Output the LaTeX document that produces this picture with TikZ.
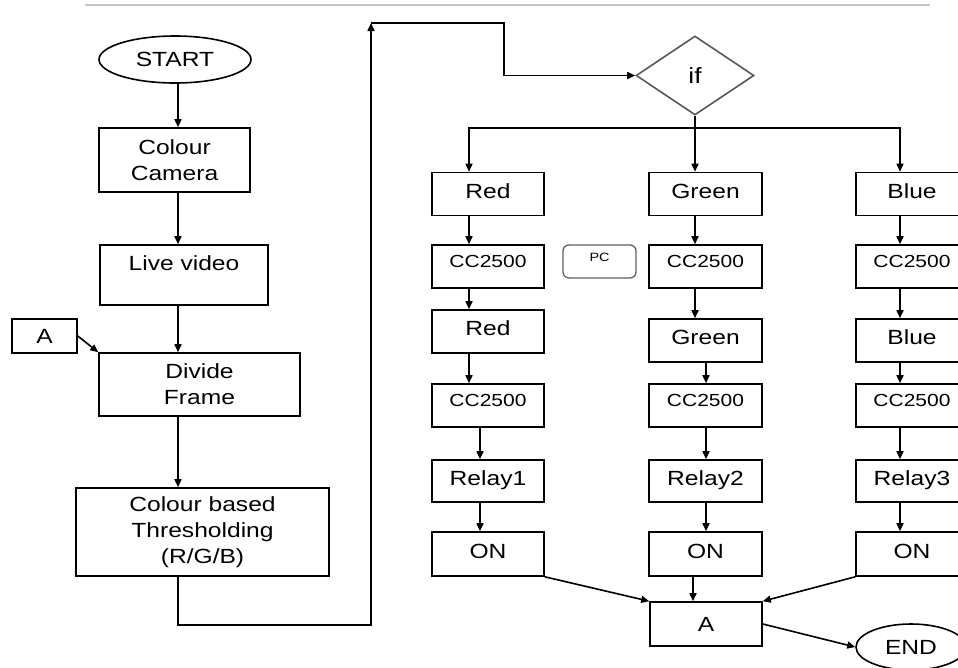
\documentclass[tikz,border=0pt]{standalone}
\usepackage{fontspec}
\setmainfont{Liberation Sans}[FakeStretch=1.2]
\usetikzlibrary{shapes.geometric,arrows.meta}
\begin{document}
\begin{tikzpicture}[x=1pt,y=-1pt,
  line width=1.6pt,
  arr/.style={-{Triangle[length=8pt,width=7pt]}},
  box/.style={draw, rectangle, inner sep=0pt, font=\fontsize{20.5}{26}\selectfont, align=center},
  cbox/.style={box, minimum width=112pt, minimum height=43pt, text height=14pt, text depth=6pt},
  ccbox/.style={box, minimum width=112pt, minimum height=43pt, font=\fontsize{17.5}{21}\selectfont, text height=12.5pt, text depth=10pt},
  term/.style={draw, ellipse, inner sep=0pt, font=\fontsize{20.5}{26}\selectfont},
  decide/.style={draw=gray!70!black, diamond, inner sep=0pt, font=\fontsize{22}{26}\selectfont},
  pcbox/.style={draw=gray!75!black, line width=1.3pt, rounded corners=6pt, inner sep=0pt, font=\fontsize{12}{14}\selectfont, text height=8.5pt, text depth=9pt},
]
\useasboundingbox (0,0) rectangle (958,667);
\draw[gray!45, line width=2pt] (85,4.5) -- (930,4.5);

% left column
\node[term, minimum width=152pt, minimum height=47pt] (start) at (175,59.5) {START};
\node[box, minimum width=151pt, minimum height=64pt] (camera) at (174.5,160) {Colour\\Camera};
\node[box, minimum width=168pt, minimum height=60pt, text height=14pt, text depth=24pt] (live) at (184,275) {Live video};
\node[box, minimum width=201pt, minimum height=63pt] (divide) at (199.5,384.5) {Divide\\Frame};
\node[box, minimum width=253pt, minimum height=88pt] (thresh) at (202.5,532) {Colour based\\Thresholding\\(R/G/B)};
\node[box, minimum width=65pt, minimum height=34pt] (asm) at (44.5,336) {A};

% decision
\node[decide, minimum width=118pt, minimum height=79pt] (if) at (695,75.5) {if};

% column 1
\node[cbox] (red1) at (488,194) {Red};
\node[ccbox] (cc1a) at (488,266.5) {CC2500};
\node[cbox] (red2) at (488,331.5) {Red};
\node[ccbox] (cc1b) at (488,405.5) {CC2500};
\node[cbox, minimum height=42pt] (relay1) at (488,481) {Relay1};
\node[cbox, minimum height=44pt] (on1) at (488,554) {ON};

% column 2
\node[cbox, minimum width=113pt] (green1) at (705.5,194) {Green};
\node[ccbox, minimum width=113pt] (cc2a) at (705.5,266.5) {CC2500};
\node[cbox, minimum width=113pt] (green2) at (705.5,340.5) {Green};
\node[ccbox, minimum width=113pt] (cc2b) at (705.5,405.5) {CC2500};
\node[cbox, minimum width=113pt, minimum height=42pt] (relay2) at (705.5,481) {Relay2};
\node[cbox, minimum width=113pt, minimum height=44pt] (on2) at (705.5,554) {ON};

% column 3
\node[cbox] (blue1) at (912,194) {Blue};
\node[ccbox] (cc3a) at (912,266.5) {CC2500};
\node[cbox] (blue2) at (912,340.5) {Blue};
\node[ccbox] (cc3b) at (912,405.5) {CC2500};
\node[cbox, minimum height=42pt] (relay3) at (912,481) {Relay3};
\node[cbox, minimum height=44pt] (on3) at (912,554) {ON};

% PC
\node[pcbox, minimum width=73pt, minimum height=33pt] (pc) at (599.5,261.5) {PC};

% bottom
\node[box, minimum width=112pt, minimum height=44pt] (asum) at (706,624) {A};
\node[term, minimum width=110pt, minimum height=46pt] (end) at (911,647) {END};

% helper coordinates
\coordinate (xL) at (178,0);
\coordinate (lb) at (178,625);
\coordinate (la) at (371,625);
\coordinate (lt) at (371,23);
\coordinate (lc) at (504,23);
\coordinate (br) at (695,128);
\coordinate (x1a) at (469,0);
\coordinate (x1b) at (480,0);
\coordinate (x2a) at (695,0);
\coordinate (x2b) at (706,0);
\coordinate (x2c) at (693,0);
\coordinate (x3) at (900,0);

% left connectors
\draw[arr] (start.south -| xL) -- (camera.north -| xL);
\draw[arr] (camera.south -| xL) -- (live.north -| xL);
\draw[arr] (live.south -| xL) -- (divide.north -| xL);
\draw[arr] (divide.south -| xL) -- (thresh.north -| xL);
\draw[arr] (asm.east) -- (divide.north west);
\draw[arr] (thresh.south -| xL) -- (lb) -- (la) -- (lt);
\draw[arr] (lt) -- (lc) |- (if.west);

% branches
\draw (if.south) -- (br);
\draw[arr] (br) -| (red1.north -| x1a);
\draw[arr] (br) -- (green1.north -| x2a);
\draw[arr] (br) -| (blue1.north -| x3);

% column 1 connectors
\draw[arr] (red1.south -| x1a) -- (cc1a.north -| x1a);
\draw[arr] (cc1a.south -| x1a) -- (red2.north -| x1a);
\draw[arr] (red2.south -| x1a) -- (cc1b.north -| x1a);
\draw[arr] (cc1b.south -| x1b) -- (relay1.north -| x1b);
\draw[arr] (relay1.south -| x1b) -- (on1.north -| x1b);

% column 2 connectors
\draw[arr] (green1.south -| x2a) -- (cc2a.north -| x2a);
\draw[arr] (cc2a.south -| x2a) -- (green2.north -| x2a);
\draw[arr] (green2.south -| x2b) -- (cc2b.north -| x2b);
\draw[arr] (cc2b.south -| x2b) -- (relay2.north -| x2b);
\draw[arr] (relay2.south -| x2b) -- (on2.north -| x2b);

% column 3 connectors
\draw[arr] (blue1.south -| x3) -- (cc3a.north -| x3);
\draw[arr] (cc3a.south -| x3) -- (blue2.north -| x3);
\draw[arr] (blue2.south -| x3) -- (cc3b.north -| x3);
\draw[arr] (cc3b.south -| x3) -- (relay3.north -| x3);
\draw[arr] (relay3.south -| x3) -- (on3.north -| x3);

% merge
\draw[arr] (on1.south east) -- (asum.north west);
\draw[arr] (on2.south -| x2c) -- (asum.north -| x2c);
\draw[arr] (on3.south west) -- (asum.north east);
\draw[arr] (asum.east) -- (end.west);
\end{tikzpicture}
\end{document}
